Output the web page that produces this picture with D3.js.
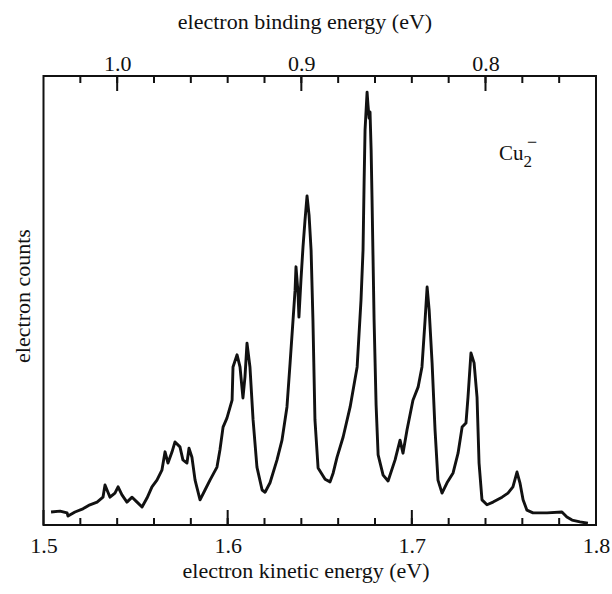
<!DOCTYPE html>
<html>
<head>
<meta charset="utf-8">
<script src="https://cdn.jsdelivr.net/npm/d3@7"></script>
<style>
  body { margin: 0; background: #fff; }
  svg text { font-family: "Liberation Serif", "DejaVu Serif", serif; fill: #111; }
</style>
</head>
<body>
<div id="chart-area"></div>
<script>
// photon energy (eV) used to convert kinetic -> binding energy
var photonEnergy = 2.54;

// electron kinetic energy (eV)
var kineticEnergy = [
  1.5041, 1.5090, 1.5128, 1.5133, 1.5171, 1.5214, 1.5252, 1.5291, 1.5323, 1.5334,
  1.5350, 1.5361, 1.5388, 1.5405, 1.5426, 1.5453, 1.5481, 1.5508, 1.5535, 1.5562,
  1.5589, 1.5616, 1.5643, 1.5660, 1.5676, 1.5698, 1.5714, 1.5741, 1.5757, 1.5779,
  1.5790, 1.5806, 1.5823, 1.5850, 1.5877, 1.5904, 1.5942, 1.5958, 1.5975, 1.5996,
  1.6024, 1.6029, 1.6051, 1.6067, 1.6083, 1.6094, 1.6105, 1.6121, 1.6138, 1.6159,
  1.6187, 1.6203, 1.6230, 1.6268, 1.6295, 1.6322, 1.6339, 1.6355, 1.6366, 1.6371,
  1.6382, 1.6387, 1.6398, 1.6409, 1.6420, 1.6431, 1.6442, 1.6453, 1.6463, 1.6474,
  1.6491, 1.6529, 1.6556, 1.6573, 1.6594, 1.6627, 1.6665, 1.6703, 1.6724, 1.6735,
  1.6741, 1.6746, 1.6757, 1.6762, 1.6768, 1.6773, 1.6779, 1.6784, 1.6795, 1.6806,
  1.6817, 1.6844, 1.6871, 1.6909, 1.6936, 1.6952, 1.6974, 1.7006, 1.7034, 1.7055,
  1.7072, 1.7083, 1.7094, 1.7110, 1.7126, 1.7142, 1.7164, 1.7191, 1.7224, 1.7251,
  1.7273, 1.7294, 1.7305, 1.7321, 1.7338, 1.7354, 1.7365, 1.7381, 1.7408, 1.7441,
  1.7490, 1.7522, 1.7549, 1.7571, 1.7587, 1.7604, 1.7625, 1.7658, 1.7734, 1.7815,
  1.7842, 1.7870, 1.7913, 1.7956
];

// electron counts (arbitrary units, 0..100 of the frame height)
var electronCounts = [
  2.9, 3.1, 2.7, 2.0, 2.9, 3.6, 4.5, 5.1, 6.2, 8.9,
  7.3, 6.2, 7.1, 8.5, 6.7, 5.1, 6.2, 5.1, 4.0, 6.0,
  8.5, 10.0, 12.2, 16.3, 13.8, 16.3, 18.5, 17.4, 14.5, 13.8,
  17.1, 15.1, 10.0, 5.6, 7.8, 10.0, 12.9, 16.7, 21.8, 23.8,
  27.8, 35.2, 37.9, 35.2, 28.3, 33.0, 40.5, 35.2, 23.4, 12.9,
  7.8, 7.3, 9.4, 14.5, 18.9, 26.3, 36.1, 45.7, 52.3, 57.5,
  51.7, 46.3, 54.6, 61.9, 67.9, 73.3, 69.0, 61.2, 45.7, 23.4,
  12.7, 10.2, 9.6, 11.6, 15.1, 19.6, 26.3, 35.2, 50.1, 61.2,
  76.8, 88.0, 96.4, 93.5, 90.6, 92.0, 83.5, 72.4, 45.7, 26.7,
  15.6, 11.1, 9.8, 14.5, 18.9, 16.0, 21.2, 27.8, 30.7, 35.2,
  45.7, 53.0, 47.9, 36.1, 21.2, 10.0, 7.1, 9.4, 11.6, 16.0,
  21.8, 22.7, 28.5, 38.3, 36.1, 28.5, 13.8, 5.6, 4.5, 5.1,
  6.2, 7.1, 8.5, 11.8, 9.4, 5.6, 3.3, 2.7, 2.7, 2.9,
  1.8, 1.1, 0.7, 0.4
];

// tick values
var kineticTicks = [1.5, 1.6, 1.7, 1.8];
var kineticMinorTicks = d3.range(1.52, 1.79, 0.02);
var bindingTicks = [1.0, 0.9, 0.8];
var bindingMinorTicks = d3.range(0.76, 1.03, 0.02);

var margin = { top: 76, right: 16, bottom: 69, left: 43.5 };
var width = 612 - margin.left - margin.right;
var height = 594 - margin.top - margin.bottom;

var svg = d3.select("#chart-area").append("svg")
    .attr("width", 612)
    .attr("height", 594);

var g = svg.append("g")
    .attr("transform", "translate(" + margin.left + "," + margin.top + ")");

var x = d3.scaleLinear().domain([1.5, 1.8]).range([0, width]);
var xTop = d3.scaleLinear()
    .domain([photonEnergy - 1.5, photonEnergy - 1.8])
    .range([0, width]);
var y = d3.scaleLinear().domain([0, 100]).range([height, 0]);

// marco
g.append("rect")
    .attr("width", width)
    .attr("height", height)
    .attr("fill", "none")
    .attr("stroke", "#111")
    .attr("stroke-width", 2);

// numeros de los ejes (d3 axis)
g.append("g")
    .attr("transform", "translate(0," + height + ")")
    .call(d3.axisBottom(x).tickValues(kineticTicks).tickSize(0).tickPadding(12)
        .tickFormat(d3.format(".1f")))
    .call(s => s.select(".domain").remove())
    .call(s => s.selectAll("text").attr("font-size", 22).attr("font-family", null));

g.append("g")
    .call(d3.axisTop(xTop).tickValues(bindingTicks).tickSize(0).tickPadding(5)
        .tickFormat(d3.format(".1f")))
    .call(s => s.select(".domain").remove())
    .call(s => s.selectAll("text").attr("font-size", 22).attr("font-family", null));

// marcas como rectangulos finos (hacia dentro)
function drawTicks(scale, values, top, len) {
    g.append("g").selectAll("rect")
        .data(values)
        .enter()
        .append("rect")
            .attr("x", d => scale(d) - 1)
            .attr("y", top ? 0 : height - len)
            .attr("width", 2)
            .attr("height", len)
            .attr("fill", "#111");
}

drawTicks(x, kineticMinorTicks, false, 7);
drawTicks(x, kineticTicks, false, 15);
drawTicks(xTop, bindingMinorTicks, true, 7);
drawTicks(xTop, bindingTicks, true, 15);

// espectro
var points = kineticEnergy.map((d, i) => [d, electronCounts[i]]);
var spectrumLine = d3.line()
    .x(d => x(d[0]))
    .y(d => y(d[1]));

g.append("path")
    .datum(points)
    .attr("d", spectrumLine)
    .attr("fill", "none")
    .attr("stroke", "#111")
    .attr("stroke-width", 2.9)
    .attr("stroke-linejoin", "round");

// titulos
svg.append("text")
    .attr("x", 305)
    .attr("y", 29)
    .attr("text-anchor", "middle")
    .attr("font-size", 22)
    .text("electron binding energy (eV)");

svg.append("text")
    .attr("x", 306)
    .attr("y", 578)
    .attr("text-anchor", "middle")
    .attr("font-size", 22)
    .text("electron kinetic energy (eV)");

svg.append("text")
    .attr("transform", "translate(30,296) rotate(-90)")
    .attr("text-anchor", "middle")
    .attr("font-size", 22)
    .text("electron counts");

// etiqueta Cu2-
var cuLabel = svg.append("text")
    .attr("x", 499)
    .attr("y", 160)
    .attr("font-size", 21);
cuLabel.append("tspan").text("Cu");
cuLabel.append("tspan").attr("dy", 7).attr("font-size", 17).text("2");

svg.append("text")
    .attr("x", 527)
    .attr("y", 148)
    .attr("font-size", 18)
    .text("\u2212");
</script>
</body>
</html>
